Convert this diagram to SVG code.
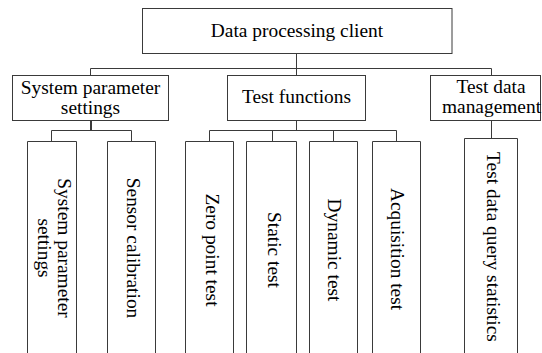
<svg xmlns="http://www.w3.org/2000/svg" width="542" height="353" viewBox="0 0 542 353">
  <style>
    .box { fill: #ffffff; stroke: #3a3a3a; stroke-width: 1; }
    .open { fill: none; stroke: #3a3a3a; stroke-width: 1; }
    .link { fill: none; stroke: #3a3a3a; stroke-width: 1; }
    .lbl { font-family: "Liberation Serif", "Times New Roman", serif; font-size: 19.4px; fill: #000000; text-anchor: middle; }
  </style>
  <rect width="542" height="353" fill="#ffffff"/>

  <!-- tree connectors -->
  <g id="connectors">
    <path class="link" d="M296.5 53.5 V75.5 M90.5 68.5 H491.5 M90.5 68.5 V75.5 M491.5 68.5 V75.5"/>
    <path class="link" d="M91 120.5 V130.5" style="stroke-width:2"/>
    <path class="link" d="M51.5 130.5 H131.5 M51.5 130.5 V141.5 M131.5 130.5 V141.5"/>
    <path class="link" d="M296.5 120.5 V130.5 M209.5 130.5 H396.5 M209.5 130.5 V141.5 M272.5 130.5 V141.5 M333.5 130.5 V141.5 M396.5 130.5 V141.5"/>
    <path class="link" d="M491.5 120.5 V138.5"/>
  </g>

  <!-- root -->
  <g id="root">
    <rect class="box" x="142.5" y="8.5" width="309.5" height="45"/>
    <text class="lbl" x="297" y="37">Data processing client</text>
  </g>

  <!-- second level -->
  <g id="system-parameter-settings">
    <rect class="box" x="12.5" y="75.5" width="156" height="45"/>
    <text class="lbl" x="90.5" y="94">System parameter</text>
    <text class="lbl" x="90.5" y="114">settings</text>
  </g>
  <g id="test-functions">
    <rect class="box" x="227.5" y="75.5" width="138" height="45"/>
    <text class="lbl" x="296.5" y="102.5">Test functions</text>
  </g>
  <g id="test-data-management">
    <rect class="box" x="430.5" y="75.5" width="110" height="45"/>
    <text class="lbl" x="491" y="92.5">Test data</text>
    <text class="lbl" x="491.5" y="113">management</text>
  </g>

  <!-- leaf columns (open at the bottom) -->
  <g id="leaf-system-parameter-settings">
    <path class="open" d="M27.5 360 V141.5 H76.5 V360"/>
    <text class="lbl" transform="translate(57.5 248) rotate(90)">System parameter</text>
    <text class="lbl" transform="translate(37.5 248) rotate(90)">settings</text>
  </g>
  <g id="leaf-sensor-calibration">
    <path class="open" d="M107.5 360 V141.5 H155.5 V360"/>
    <text class="lbl" transform="translate(126.5 248) rotate(90)">Sensor calibration</text>
  </g>
  <g id="leaf-zero-point-test">
    <path class="open" d="M185.5 360 V141.5 H233.5 V360"/>
    <text class="lbl" transform="translate(205.5 250) rotate(90)">Zero point test</text>
  </g>
  <g id="leaf-static-test">
    <path class="open" d="M246.5 360 V141.5 H296.5 V360"/>
    <text class="lbl" transform="translate(267.5 250) rotate(90)">Static test</text>
  </g>
  <g id="leaf-dynamic-test">
    <path class="open" d="M309.5 360 V141.5 H357.5 V360"/>
    <text class="lbl" transform="translate(327.5 250) rotate(90)">Dynamic test</text>
  </g>
  <g id="leaf-acquisition-test">
    <path class="open" d="M372.5 360 V141.5 H420.5 V360"/>
    <text class="lbl" transform="translate(391 249) rotate(90)">Acquisition test</text>
  </g>
  <g id="leaf-test-data-query-statistics">
    <path class="open" d="M464.5 360 V138.5 H517.5 V360"/>
    <text class="lbl" transform="translate(487 247) rotate(90)">Test data query statistics</text>
  </g>
</svg>
